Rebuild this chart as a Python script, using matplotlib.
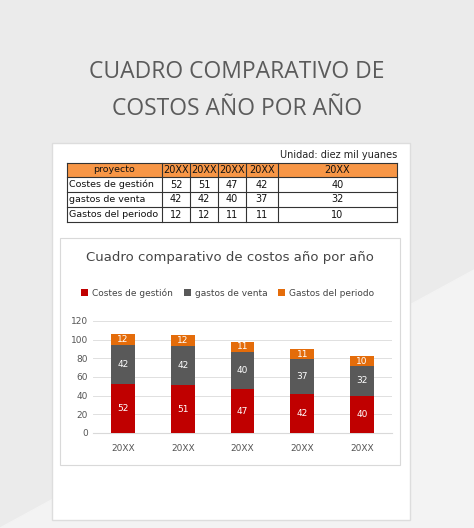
import matplotlib
matplotlib.use("Agg")
import matplotlib.pyplot as plt
from matplotlib.patches import Rectangle

years = ["20XX", "20XX", "20XX", "20XX", "20XX"]
series_names = ["Costes de gestión", "gastos de venta", "Gastos del periodo"]
gestion = [52, 51, 47, 42, 40]
venta = [42, 42, 40, 37, 32]
periodo = [12, 12, 11, 11, 10]
colors = ["#c00000", "#595959", "#e46c0a"]

W, H = 474, 528
fig = plt.figure(figsize=(W/100, H/100), dpi=100)
fig.patch.set_facecolor("#ebebeb")
bg = fig.add_axes([0, 0, 1, 1]); bg.set_xlim(0, W); bg.set_ylim(H, 0); bg.axis("off")
bg.fill([0, W, W, 0], [528, 270, 528, 528], color="#f3f3f3", zorder=0)
gray = "#5b5b5b"
bg.text(237, 72, "CUADRO COMPARATIVO DE", ha="center", va="center", fontsize=16.5, color=gray, family="Open Sans")
bg.text(237, 109, "COSTOS AÑO POR AÑO", ha="center", va="center", fontsize=16.5, color=gray, family="Open Sans")
bg.add_patch(Rectangle((52, 143), 358, 377, facecolor="white", edgecolor="#dddddd", zorder=1))
bg.text(397, 155, "Unidad: diez mil yuanes", ha="right", va="center", fontsize=7, color="#222", zorder=3)

xs = [67, 162, 190, 218, 246, 278, 397]
ys = [163, 177, 192, 207, 222]
bg.add_patch(Rectangle((67, 163), 330, 14, facecolor="#f79646", edgecolor="none", zorder=2))
rows = [["proyecto"] + years] + [[n] + [str(v) for v in vals] for n, vals in zip(series_names, [gestion, venta, periodo])]
for r, row in enumerate(rows):
    yc = (ys[r] + ys[r+1]) / 2
    for c, txt in enumerate(row):
        fs = 6.8 if c == 0 else 7
        if c == 0 and r > 0:
            bg.text(xs[0] + 2, yc, txt, ha="left", va="center", fontsize=fs, color="#111", zorder=3)
        else:
            bg.text((xs[c] + xs[c+1]) / 2, yc, txt, ha="center", va="center", fontsize=fs, color="#111", zorder=3)
for y in ys:
    bg.plot([xs[0], xs[-1]], [y, y], color="#333", lw=0.8, zorder=3)
for x in xs:
    bg.plot([x, x], [ys[0], ys[-1]], color="#333", lw=0.8, zorder=3)

bg.add_patch(Rectangle((60, 238), 340, 227, facecolor="white", edgecolor="#d9d9d9", lw=0.8, zorder=2))
bg.text(230, 257, "Cuadro comparativo de costos año por año", ha="center", va="center", fontsize=9.5, color="#444", zorder=3)

ax = fig.add_axes([93/W, 1 - 433/H, (392-93)/W, (433-321)/H], zorder=5)
ax.set_facecolor("none")
x = list(range(len(years)))
bottom = [0]*5
for vals, col, name in zip([gestion, venta, periodo], colors, series_names):
    bars = ax.bar(x, vals, bottom=bottom, width=0.4, color=col, label=name, zorder=3)
    for b, v, bt in zip(bars, vals, bottom):
        ax.text(b.get_x() + b.get_width()/2, bt + v/2, str(v), ha="center", va="center", fontsize=6.5, color="white", zorder=4)
    bottom = [a + b for a, b in zip(bottom, vals)]
ax.set_ylim(0, 120)
ax.set_xlim(-0.5, 4.5)
ax.set_yticks(range(0, 121, 20))
ax.set_xticks(x, years)
ax.tick_params(length=0, labelsize=6.5, colors="#555")
ax.tick_params(axis="x", pad=8)
ax.grid(axis="y", color="#e0e0e0", lw=0.7, zorder=0)
for s in ["top", "right", "left"]:
    ax.spines[s].set_visible(False)
ax.spines["bottom"].set_color("#d9d9d9")
ax.legend(loc="center", bbox_to_anchor=(0.45, 1.25), ncol=3, frameon=False, fontsize=6.5,
          handlelength=0.8, handleheight=0.8, columnspacing=1.2, handletextpad=0.4, labelcolor="#444")

fig.savefig("out.png", dpi=100, facecolor=fig.get_facecolor())
